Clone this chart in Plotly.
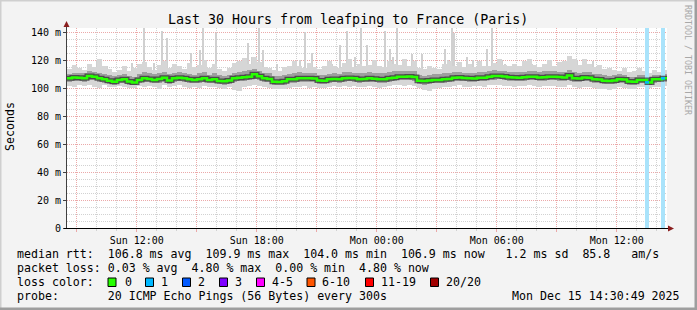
import plotly.graph_objects as go
import pandas as pd

# ---------------- data ----------------
TITLE = "Last 30 Hours from leafping to France (Paris)"
START = "2025-12-14 08:30:49"
END = "2025-12-15 14:30:49"
BIN_MINUTES = 15

median_ms = [
    106.9, 107.5, 107.4, 107.0, 108.6, 108.0, 106.9, 106.2, 105.2, 104.5,
    105.7, 106.2, 104.6, 104.0, 105.7, 106.9, 106.5, 105.8, 106.5, 107.4,
    105.4, 106.9, 107.4, 106.9, 106.2, 105.7, 106.2, 106.9, 105.7, 106.2,
    105.0, 104.8, 105.3, 106.9, 107.4, 107.6, 108.1, 109.9, 108.4, 106.9,
    106.5, 104.5, 104.3, 104.8, 106.2, 106.2, 106.9, 107.0, 106.9, 106.7,
    105.3, 105.2, 106.2, 106.5, 106.2, 106.9, 107.2, 106.9, 106.2, 106.4,
    106.9, 106.6, 106.2, 106.3, 106.9, 107.4, 108.1, 108.0, 108.3, 107.9,
    105.2, 105.0, 105.3, 105.7, 105.8, 106.2, 106.4, 107.4, 107.5, 107.2,
    106.9, 106.8, 107.4, 107.3, 108.1, 108.6, 108.5, 108.3, 107.6, 107.5,
    107.4, 107.6, 108.1, 108.0, 107.5, 107.6, 108.1, 108.0, 107.8, 107.5,
    109.0, 106.9, 106.7, 107.5, 107.4, 106.2, 106.0, 105.2, 105.0, 105.4,
    106.2, 106.0, 104.6, 104.5, 105.7, 105.8, 104.0, 106.2, 106.2, 106.9,
]

smoke_min_ms = [
    101.5, 100.8, 102.0, 101.2, 102.5, 101.0, 100.2, 101.8, 100.5, 100.9,
    101.5, 100.7, 100.0, 99.8, 101.2, 100.4, 101.5, 100.9, 99.6, 101.8,
    100.5, 101.2, 101.9, 100.8, 100.3, 101.0, 100.2, 101.5, 100.6, 100.9,
    99.9, 99.5, 100.7, 98.5, 97.8, 100.9, 101.7, 102.2, 101.5, 100.8,
    100.2, 99.5, 99.0, 99.6, 100.3, 101.0, 100.8, 101.6, 100.1, 100.9,
    99.7, 99.8, 100.5, 101.2, 100.9, 101.3, 101.0, 101.6, 100.4, 100.8,
    101.3, 100.5, 99.9, 100.6, 101.1, 101.8, 102.0, 101.5, 101.9, 101.3,
    99.8, 98.6, 98.0, 99.5, 100.2, 100.6, 100.9, 101.5, 101.8, 101.0,
    100.7, 101.2, 101.5, 101.0, 101.9, 102.3, 101.8, 101.6, 101.2, 100.9,
    101.1, 101.6, 101.9, 101.4, 100.8, 101.2, 101.7, 101.5, 101.0, 100.6,
    101.9, 100.5, 100.0, 100.9, 100.6, 99.8, 99.5, 99.0, 98.8, 99.6,
    100.4, 100.2, 99.2, 99.4, 100.5, 100.8, 100.0, 100.6, 101.0, 101.2,
]

smoke_q1_ms = [
    104.6, 105.0, 105.2, 104.5, 105.8, 105.5, 104.2, 103.9, 102.8, 102.4,
    103.3, 103.8, 102.5, 101.9, 103.4, 104.5, 104.1, 103.6, 103.9, 104.8,
    103.2, 104.4, 104.9, 104.6, 103.8, 103.4, 103.9, 104.3, 103.3, 103.9,
    102.8, 102.5, 102.9, 104.2, 104.9, 105.1, 105.6, 106.4, 105.8, 104.5,
    104.1, 102.3, 101.9, 102.5, 103.9, 103.8, 104.5, 104.6, 104.4, 104.2,
    103.0, 102.9, 103.8, 104.1, 103.9, 104.5, 104.7, 104.5, 103.8, 104.0,
    104.5, 104.2, 103.9, 103.8, 104.5, 104.9, 105.5, 105.6, 105.8, 105.3,
    102.8, 102.5, 102.9, 103.3, 103.4, 103.8, 104.0, 104.9, 105.1, 104.8,
    104.4, 104.5, 105.0, 104.9, 105.6, 106.0, 106.1, 105.8, 105.2, 105.0,
    105.0, 105.2, 105.6, 105.4, 105.0, 105.1, 105.7, 105.5, 105.3, 105.0,
    106.2, 104.3, 104.2, 104.9, 104.8, 103.8, 103.6, 102.8, 102.7, 103.0,
    103.8, 103.7, 102.3, 102.2, 103.4, 103.5, 101.9, 103.9, 104.0, 104.5,
]

smoke_q3_ms = [
    110.2, 111.0, 110.5, 110.8, 112.0, 111.6, 110.9, 109.8, 109.0, 108.3,
    109.5, 110.2, 108.6, 108.0, 109.7, 111.5, 110.8, 110.0, 110.6, 111.4,
    109.8, 111.0, 111.3, 110.6, 110.0, 109.5, 110.4, 111.2, 109.6, 110.5,
    109.0, 108.9, 109.3, 111.0, 111.5, 112.2, 112.8, 113.5, 112.4, 110.9,
    110.6, 108.6, 108.4, 109.0, 110.3, 110.5, 111.2, 111.0, 110.8, 110.5,
    109.4, 109.0, 110.2, 110.8, 110.0, 111.2, 111.6, 110.9, 110.4, 110.8,
    111.1, 110.9, 110.4, 110.7, 111.3, 111.8, 112.5, 112.0, 112.4, 111.9,
    109.6, 108.9, 109.2, 109.7, 109.9, 110.4, 110.6, 111.3, 111.6, 111.0,
    110.8, 110.7, 111.5, 111.2, 112.1, 112.6, 112.4, 112.2, 111.5, 111.3,
    111.2, 111.5, 112.0, 111.9, 111.4, 111.8, 112.3, 112.0, 111.7, 111.4,
    113.0, 111.2, 110.6, 111.4, 111.2, 110.0, 109.8, 109.0, 108.6, 109.1,
    110.0, 109.6, 108.2, 108.0, 109.3, 109.5, 107.6, 109.4, 109.2, 109.8,
]

smoke_max_ms = [
    113.5, 116.5, 114.2, 112.8, 117.0, 115.2, 121.0, 116.0, 113.5, 111.5,
    113.0, 115.5, 112.0, 114.5, 117.0, 118.5, 115.0, 113.0, 116.5, 119.0,
    114.5, 117.0, 115.5, 113.8, 118.0, 115.0, 116.5, 120.0, 114.0, 117.5,
    113.5, 112.0, 114.0, 118.0, 119.5, 121.5, 117.0, 122.0, 118.5, 115.0,
    114.5, 113.0, 112.5, 115.0, 116.0, 119.0, 115.5, 114.5, 118.0, 115.0,
    113.5, 116.0, 119.5, 115.5, 114.5, 118.0, 121.0, 115.0, 117.5, 115.5,
    116.5, 120.0, 116.0, 115.0, 119.5, 117.0, 116.5, 121.0, 116.0, 119.0,
    114.0, 113.5, 116.0, 114.5, 113.5, 117.0, 119.0, 115.5, 118.5, 115.0,
    117.0, 115.0, 119.5, 116.0, 115.5, 118.0, 120.5, 116.5, 115.5, 117.5,
    115.5, 119.0, 121.0, 116.5, 115.0, 117.5, 120.0, 116.0, 118.5, 119.5,
    123.0, 121.0, 116.5, 120.5, 117.0, 115.0, 116.5, 113.5, 114.0, 113.0,
    112.5, 114.5, 111.5, 112.0, 114.0, 112.5, 111.0, 113.0, 111.5, 113.0,
]

# packet loss events: (sample time, lost pings out of 20)
loss_event_times = ["2025-12-15 13:30:49", "2025-12-15 14:18:49"]
loss_event_pings = [1, 1]
loss_event_median_ms = [104.0, 106.9]

# isolated high single pings (5-minute samples)
spike_times = [
    "2025-12-14 10:00", "2025-12-14 10:30", "2025-12-14 11:45", "2025-12-14 12:21",
    "2025-12-14 12:51", "2025-12-14 13:15", "2025-12-14 13:30", "2025-12-14 14:42",
    "2025-12-14 15:09", "2025-12-14 15:18", "2025-12-14 15:57", "2025-12-14 17:33",
    "2025-12-14 17:45", "2025-12-14 18:06", "2025-12-14 18:18", "2025-12-14 19:00",
    "2025-12-14 20:09", "2025-12-14 20:24", "2025-12-14 20:45", "2025-12-14 21:45",
    "2025-12-14 22:09", "2025-12-14 22:30", "2025-12-14 22:54", "2025-12-14 23:12",
    "2025-12-14 23:30", "2025-12-15 00:24", "2025-12-15 00:39", "2025-12-15 00:48",
    "2025-12-15 01:00", "2025-12-15 01:45", "2025-12-15 02:15", "2025-12-15 03:24",
    "2025-12-15 03:33", "2025-12-15 03:45", "2025-12-15 03:51", "2025-12-15 04:30",
    "2025-12-15 04:48", "2025-12-15 05:30", "2025-12-15 05:45", "2025-12-15 06:15",
    "2025-12-15 06:24", "2025-12-15 07:15", "2025-12-15 07:45", "2025-12-15 08:24",
    "2025-12-15 10:00", "2025-12-15 10:48",
]
spike_ms = [
    120, 116, 118, 143, 118, 141, 136, 125, 127, 143, 139, 132,
    122, 143, 127, 117, 120, 140, 125, 117, 131, 141, 122, 143,
    131, 141, 128, 122, 143, 124, 124, 128, 120, 143, 139, 122,
    120, 128, 143, 120, 117, 115, 117, 117, 120, 119,
]

y_tick_values = [0, 20, 40, 60, 80, 100, 120, 140]
y_tick_labels = ["0", "20 m", "40 m", "60 m", "80 m", "100 m", "120 m", "140 m"]
x_tick_times = [
    "2025-12-14 09:00", "2025-12-14 12:00", "2025-12-14 15:00", "2025-12-14 18:00",
    "2025-12-14 21:00", "2025-12-15 00:00", "2025-12-15 03:00", "2025-12-15 06:00",
    "2025-12-15 09:00", "2025-12-15 12:00",
]
x_tick_labels = ["", "Sun 12:00", "", "Sun 18:00", "", "Mon 00:00", "", "Mon 06:00", "", "Mon 12:00"]

loss_labels = ["0", "1", "2", "3", "4-5", "6-10", "11-19", "20/20"]
loss_colors = ["#26ff00", "#00b8ff", "#0059ff", "#7e00ff", "#ff00ff", "#ff5500", "#ff0000", "#a10000"]
loss_upper = [0, 1, 2, 3, 5, 10, 19, 20]

stats_rtt = "median rtt:  106.8 ms avg  109.9 ms max  104.0 ms min  106.9 ms now   1.2 ms sd  85.8   am/s"
stats_loss = "packet loss: 0.03 % avg  4.80 % max  0.00 % min  4.80 % now"
probe_text = "probe:       20 ICMP Echo Pings (56 Bytes) every 300s"
stamp_text = "Mon Dec 15 14:30:49 2025"

# ---------------- style / geometry ----------------
W, H = 697, 310
PL, PR, PT, PB = 67, 667, 28, 228
Y_TOP = 200 / 1.4
FONT = "DejaVu Sans Mono"
BG = "#f3f3f3"
LOSS_BAND = "#a9e3fb"
MGRID = "#eba9a9"
GRID = "#d2d2d2"


def xp(px):
    return (px - PL) / (PR - PL)


def yp(py):
    return (PB - py) / (PB - PT)


def nb(s):
    return s.replace(" ", "\u00a0")


def loss_color(n):
    for up, c in zip(loss_upper, loss_colors):
        if n <= up:
            return c
    return loss_colors[-1]


start = pd.Timestamp(START)
step = pd.Timedelta(minutes=BIN_MINUTES)
n = len(median_ms)
bin_start = [start + i * step for i in range(n + 1)]
bin_mid = [start + (i + 0.5) * step for i in range(n)]
step_ms = step.total_seconds() * 1000
LOSS_SPAN = pd.Timedelta(minutes=12)

fig = go.Figure()

# spikes (single high pings)
fig.add_trace(go.Bar(
    x=pd.to_datetime(spike_times), y=[v - 108 for v in spike_ms], base=108,
    width=300000 * 1.2, marker=dict(color="#d0d0d0", line=dict(width=0)),
    hoverinfo="skip", showlegend=False))

# outer smoke
fig.add_trace(go.Bar(
    x=bin_mid, y=[hi - lo for lo, hi in zip(smoke_min_ms, smoke_max_ms)], base=smoke_min_ms,
    width=step_ms, marker=dict(color="#d6d6d6", line=dict(width=0)),
    hoverinfo="skip", showlegend=False))

# inner smoke
fig.add_trace(go.Bar(
    x=bin_mid, y=[hi - lo for lo, hi in zip(smoke_q1_ms, smoke_q3_ms)], base=smoke_q1_ms,
    width=step_ms, marker=dict(color="#9e9e9e", line=dict(width=0)),
    hoverinfo="skip", showlegend=False))

# loss background bands
loss_t = pd.to_datetime(loss_event_times)
fig.add_trace(go.Bar(
    x=loss_t, y=[Y_TOP] * len(loss_t), base=0,
    width=LOSS_SPAN.total_seconds() * 1000, marker=dict(color=LOSS_BAND, line=dict(width=0)),
    hoverinfo="skip", showlegend=False))

# dark core around median
fig.add_trace(go.Scatter(
    x=bin_start, y=median_ms + [median_ms[-1]], mode="lines",
    line=dict(color="rgba(40,40,40,0.7)", width=5, shape="hv"),
    hoverinfo="skip", showlegend=False))

# median line coloured by loss
fig.add_trace(go.Scatter(
    x=bin_start, y=median_ms + [median_ms[-1]], mode="lines",
    line=dict(color=loss_colors[0], width=2.5, shape="hv"),
    hoverinfo="skip", showlegend=False))
for t, p, m in zip(loss_t, loss_event_pings, loss_event_median_ms):
    fig.add_trace(go.Scatter(
        x=[t - LOSS_SPAN / 2, t + LOSS_SPAN / 2], y=[m, m], mode="lines",
        line=dict(color=loss_color(p), width=2.5),
        hoverinfo="skip", showlegend=False))

shapes = []
# frame of the image
shapes.append(dict(type="rect", xref="paper", yref="paper", x0=xp(0), x1=xp(W), y0=yp(0), y1=yp(1.5),
                   fillcolor="#cfcfcf", line=dict(width=0), layer="above"))
shapes.append(dict(type="rect", xref="paper", yref="paper", x0=xp(0), x1=xp(1.5), y0=yp(0), y1=yp(H),
                   fillcolor="#cfcfcf", line=dict(width=0), layer="above"))
shapes.append(dict(type="rect", xref="paper", yref="paper", x0=xp(0), x1=xp(W), y0=yp(H - 2.5), y1=yp(H),
                   fillcolor="#9e9e9e", line=dict(width=0), layer="above"))
shapes.append(dict(type="rect", xref="paper", yref="paper", x0=xp(W - 2.5), x1=xp(W), y0=yp(0), y1=yp(H),
                   fillcolor="#9e9e9e", line=dict(width=0), layer="above"))
# axes with arrows
shapes.append(dict(type="line", xref="paper", yref="paper", x0=xp(PL - 0.5), x1=xp(PL - 0.5), y0=yp(PB + 0.5), y1=yp(24),
                   line=dict(color="#404040", width=1), layer="above"))
shapes.append(dict(type="line", xref="paper", yref="paper", x0=xp(PL - 3), x1=xp(669), y0=yp(PB + 0.5), y1=yp(PB + 0.5),
                   line=dict(color="#000000", width=1), layer="above"))
shapes.append(dict(type="path", xref="paper", yref="paper",
                   path=f"M {xp(PL - 0.5)},{yp(21)} L {xp(PL - 3.5)},{yp(27)} L {xp(PL + 2.5)},{yp(27)} Z",
                   fillcolor="#8a1e1e", line=dict(width=0), layer="above"))
shapes.append(dict(type="path", xref="paper", yref="paper",
                   path=f"M {xp(674)},{yp(PB + 0.5)} L {xp(668)},{yp(PB - 2.5)} L {xp(668)},{yp(PB + 3.5)} Z",
                   fillcolor="#8a1e1e", line=dict(width=0), layer="above"))

annotations = []


def txt(s, x, y, size=11.6, anchor="left", color="#000000", angle=0, yanchor="middle"):
    annotations.append(dict(text=nb(s), x=xp(x), y=yp(y), xref="paper", yref="paper",
                            xanchor=anchor, yanchor=yanchor, showarrow=False, textangle=angle,
                            font=dict(family=FONT, size=size, color=color), borderpad=0))


txt(TITLE, 348, 19, size=13.3, anchor="center")
txt("Seconds", 10, 127, angle=-90, anchor="center")
txt("RRDTOOL / TOBI OETIKER", 688, 60, size=8.3, anchor="center", color="#a8a8a8", angle=90)
txt(stats_rtt, 16, 254)
txt(stats_loss, 16, 268)
txt("loss color:", 16, 282)
txt(probe_text, 16, 296)
txt(stamp_text, 681, 296, anchor="right")

box_left = [108, 145.5, 182.5, 219.5, 256.5, 307, 365.5, 430.5]
label_left = [123.5, 160, 197, 234, 270.5, 321, 380, 445]
for lab, col, bx, lx in zip(loss_labels, loss_colors, box_left, label_left):
    shapes.append(dict(type="rect", xref="paper", yref="paper", x0=xp(bx), x1=xp(bx + 8),
                       y0=yp(278), y1=yp(286.5), fillcolor=col, line=dict(color="#000000", width=1),
                       layer="above"))
    txt(lab, lx, 282)

fig.update_layout(
    width=W, height=H, autosize=False,
    margin=dict(l=PL, r=W - PR, t=PT, b=H - PB, pad=0),
    paper_bgcolor=BG, plot_bgcolor="#ffffff",
    barmode="overlay", bargap=0,
    showlegend=False,
    shapes=shapes, annotations=annotations,
    font=dict(family=FONT, size=10, color="#000000"),
    xaxis=dict(
        type="date", range=[START, END], fixedrange=True,
        tickmode="array", tickvals=x_tick_times, ticktext=x_tick_labels,
        showgrid=True, gridcolor=MGRID, griddash="1px,1px", gridwidth=1,
        ticks="outside", ticklen=3, tickcolor=MGRID,
        tickfont=dict(family=FONT, size=10, color="#000000"),
        minor=dict(dtick=3600000, tick0="2025-12-14 09:00", showgrid=True, gridcolor=GRID,
                   griddash="1px,1px", gridwidth=1, ticks="outside", ticklen=2, tickcolor=GRID),
        showline=False, zeroline=False,
    ),
    yaxis=dict(
        range=[0, Y_TOP], fixedrange=True,
        tickmode="array", tickvals=y_tick_values, ticktext=y_tick_labels,
        showgrid=True, gridcolor=MGRID, griddash="1px,1px", gridwidth=1,
        ticks="outside", ticklen=3, tickcolor="#404040",
        tickfont=dict(family=FONT, size=10, color="#000000"),
        minor=dict(dtick=5, showgrid=True, gridcolor=GRID, griddash="1px,1px", gridwidth=1),
        showline=False, zeroline=False,
    ),
)

fig.write_html("out.html")
